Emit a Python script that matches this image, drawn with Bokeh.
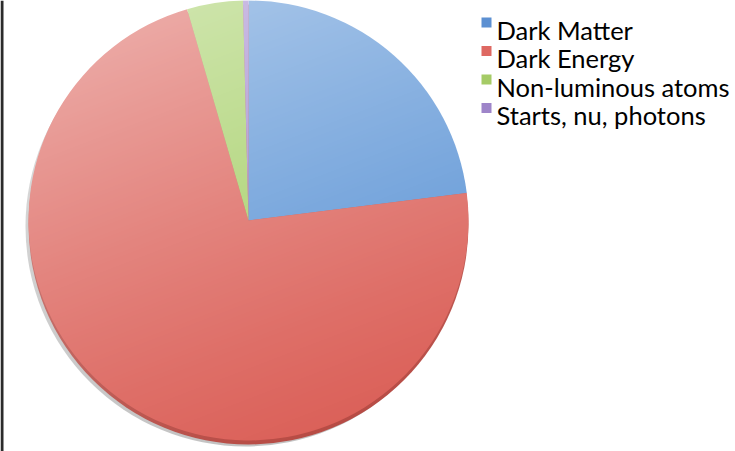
import math
import numpy as np
from bokeh.plotting import figure
from bokeh.models import Range1d, ColumnDataSource
from bokeh.core.properties import value
from bokeh.embed import file_html
from bokeh.resources import INLINE

# ---- data ----
categories = ["Dark Matter", "Dark Energy", "Non-luminous atoms", "Starts, nu, photons"]
values = [23.0, 72.5, 4.1, 0.4]
colors = ["#5690D4", "#DA5B53", "#A0CC5E", "#9C80CB"]
legend_colors = ["#5C90D2", "#DE6862", "#A5CB66", "#9E85C9"]

W, H = 735, 451
p = figure(width=W, height=H, x_range=Range1d(0, W), y_range=Range1d(0, H),
           min_border=0, toolbar_location=None, output_backend="svg")
p.axis.visible = False
p.grid.visible = False
p.outline_line_color = None
p.background_fill_color = "white"
p.border_fill_color = "white"

# left dark frame strip
p.quad(left=0, right=3, bottom=0, top=H, fill_color="#2B2B2B", line_color=None)

cx, cy_pix, r = 248, 220, 220
cy = H - cy_pix

# shadow and rim
p.circle(x=cx - 3, y=cy - 6, radius=r, fill_color="#8C8C8C", fill_alpha=0.55, line_color=None)
p.circle(x=cx, y=cy - 4, radius=r, fill_color="#B5453E", line_color=None)

total = sum(values)
starts, ends = [], []
cum = 0.0
for v in values:
    starts.append(math.pi / 2 - 2 * math.pi * cum / total)
    cum += v
    ends.append(math.pi / 2 - 2 * math.pi * cum / total)

src = ColumnDataSource(dict(cat=categories, val=values, start=starts, end=ends, color=colors))
p.wedge(x=cx, y=cy, radius=r, start_angle="start", end_angle="end", direction="clock",
        fill_color="color", line_color=None, source=src)

# light gradient overlay (white, alpha fading toward bottom-right)
gx0, gx1, gtop, gbot = 22, 476, 0, 448
gw, gh = gx1 - gx0, gbot - gtop
rows = np.arange(gh)
colsx = np.arange(gw)
ty = 1.0 - rows / (gh - 1)            # row 0 = bottom of image
tx = colsx / (gw - 1)
s = 0.72 * ty[:, None] + 0.28 * tx[None, :]
alpha = np.clip(0.55 * (1.0 - s) ** 1.25, 0, 1)
img = np.empty((gh, gw), dtype=np.uint32)
view = img.view(dtype=np.uint8).reshape((gh, gw, 4))
view[:, :, 0] = 255
view[:, :, 1] = 255
view[:, :, 2] = 255
view[:, :, 3] = (alpha * 255).astype(np.uint8)
p.image_rgba(image=[img], x=gx0, y=H - gbot, dw=gw, dh=gh)

# legend
row0, dy = 29, 28.5
lx = [486] * len(categories)
ly = [H - (row0 - 7 + i * dy) for i in range(len(categories))]
p.rect(x=lx, y=ly, width=10, height=10, fill_color=legend_colors, line_color=None)
tx_ = [496] * len(categories)
ty_ = [H - (row0 + i * dy) for i in range(len(categories))]
p.text(x=tx_, y=ty_, text=categories, text_font=value("Lato"), text_font_size="25.5px",
       text_baseline="alphabetic", text_align="left", text_color="#000000")

open("out.html", "w").write(file_html(p, INLINE))
